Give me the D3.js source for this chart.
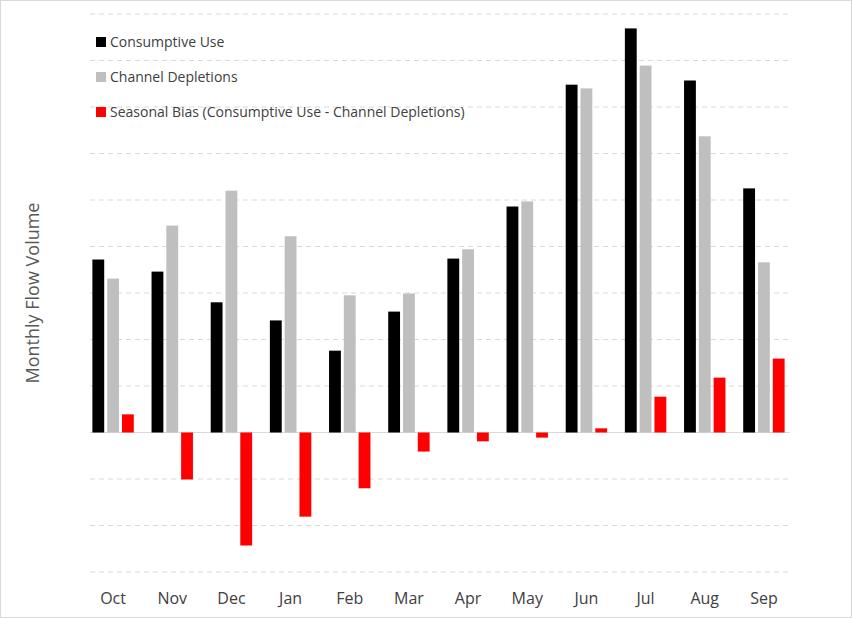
<!DOCTYPE html>
<html>
<head>
<meta charset="utf-8">
<script src="https://cdn.jsdelivr.net/npm/d3@7"></script>
<style>
  body { margin: 0; background: #fff; }
  svg { font-family: "Open Sans", "Liberation Sans", sans-serif; }
</style>
</head>
<body>
<svg id="chart" width="852" height="618"></svg>
<script>
// data (one gridline = 1 unit)
let months = ["Oct", "Nov", "Dec", "Jan", "Feb", "Mar", "Apr", "May", "Jun", "Jul", "Aug", "Sep"];
let consumptiveUse = [3.72, 3.46, 2.80, 2.41, 1.76, 2.60, 3.74, 4.86, 7.48, 8.69, 7.57, 5.25];
let channelDepletions = [3.31, 4.45, 5.20, 4.22, 2.95, 2.99, 3.94, 4.97, 7.40, 7.89, 6.37, 3.66];
let seasonalBias = [0.39, -1.01, -2.43, -1.81, -1.20, -0.41, -0.19, -0.11, 0.09, 0.77, 1.18, 1.59];
let gridTicks = d3.range(-3, 10);

let seriesNames = ["Consumptive Use", "Channel Depletions", "Seasonal Bias (Consumptive Use - Channel Depletions)"];
let seriesColors = ["#000000", "#bfbfbf", "#ff0000"];
let seriesData = [consumptiveUse, channelDepletions, seasonalBias];

let svg = d3.select("#chart");

// outer border
svg.append("rect")
    .attr("x", 0.5).attr("y", 0.5)
    .attr("width", 851).attr("height", 617)
    .attr("fill", "none").attr("stroke", "#d9d9d9");

let x = d3.scaleBand().domain(months).range([83.5, 793.5]);
let xInner = d3.scaleBand().domain([0, 1, 2]).range([x.bandwidth() * 0.15, x.bandwidth() * 0.85]).paddingInner(0.2);
let y = d3.scaleLinear().domain([-3, 9]).range([572, 14]);

// gridlines
svg.append("g").selectAll("line")
    .data(gridTicks)
    .join("line")
    .attr("x1", 90).attr("x2", 790)
    .attr("y1", d => y(d)).attr("y2", d => y(d))
    .attr("stroke", "#d9d9d9")
    .attr("stroke-dasharray", d => d === 0 ? null : "5,4");

// bars
seriesData.forEach((values, s) => {
    svg.append("g").selectAll("rect")
        .data(values)
        .join("rect")
        .attr("x", (d, i) => x(months[i]) + xInner(s))
        .attr("width", xInner.bandwidth())
        .attr("y", d => y(Math.max(0, d)))
        .attr("height", d => Math.abs(y(d) - y(0)))
        .attr("fill", seriesColors[s]);
});

// x axis labels
let xAxis = svg.append("g")
    .attr("transform", "translate(0,587)")
    .call(d3.axisBottom(x).tickSize(0).tickPadding(6));
xAxis.select(".domain").remove();
xAxis.selectAll("text")
    .attr("font-size", 16)
    .attr("fill", "#404040")
    .attr("font-family", "Open Sans, Liberation Sans, sans-serif");

// y label
svg.append("text")
    .attr("transform", "translate(39,293) rotate(-90)")
    .attr("text-anchor", "middle")
    .attr("font-size", 18)
    .attr("fill", "#595959")
    .text("Monthly Flow Volume");

// legend
let legend = svg.append("g");
seriesNames.forEach((name, i) => {
    let ly = 42 + i * 35;
    legend.append("rect")
        .attr("x", 96).attr("y", ly - 5)
        .attr("width", 10).attr("height", 10)
        .attr("fill", seriesColors[i]);
    legend.append("text")
        .attr("x", 110).attr("y", ly + 5)
        .attr("font-size", 14)
        .attr("fill", "#404040")
        .text(name);
});
</script>
</body>
</html>
